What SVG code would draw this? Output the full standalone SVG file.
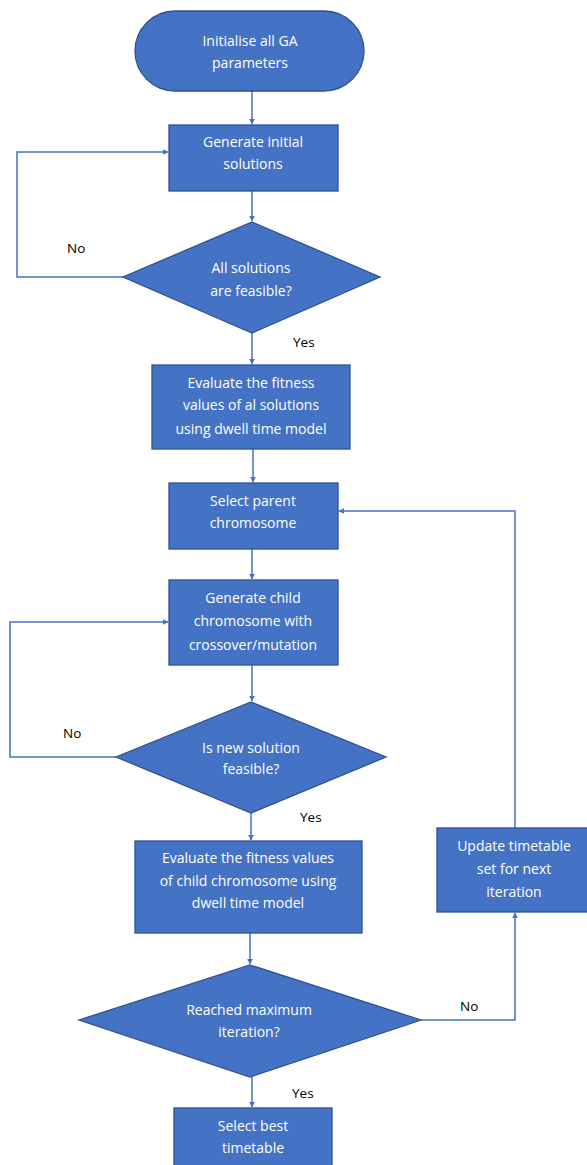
<svg xmlns="http://www.w3.org/2000/svg" width="587" height="1165" viewBox="0 0 587 1165">
<style>
.n{fill:#4472C4;stroke:#2F528F;stroke-width:1.3}
.t{fill:#fff;font-family:"Open Sans","Liberation Sans",Arial,sans-serif;font-size:14px;text-anchor:middle}
.l{fill:#000;font-family:"Open Sans","Liberation Sans",Arial,sans-serif;font-size:13.5px}
.c{fill:none;stroke:#4472C4;stroke-width:1.5}
</style>
<defs>
<marker id="a" viewBox="0 0 10 10" refX="9" refY="5" markerWidth="6" markerHeight="6" markerUnits="userSpaceOnUse" orient="auto"><path d="M0,0L10,5L0,10z" fill="#4472C4"/></marker>
</defs>
<rect width="587" height="1165" fill="#fff"/>
<g id="connectors">
<path class="c" d="M252,91V124" marker-end="url(#a)"/>
<path class="c" d="M252,191V221" marker-end="url(#a)"/>
<path class="c" d="M123,277H17V152H168" marker-end="url(#a)"/>
<path class="c" d="M252,333V364" marker-end="url(#a)"/>
<path class="c" d="M253,449V482" marker-end="url(#a)"/>
<path class="c" d="M252,549V579" marker-end="url(#a)"/>
<path class="c" d="M252,665V701" marker-end="url(#a)"/>
<path class="c" d="M116,757H10V622H168" marker-end="url(#a)"/>
<path class="c" d="M251,813V840" marker-end="url(#a)"/>
<path class="c" d="M250,933V964" marker-end="url(#a)"/>
<path class="c" d="M421,1020H515V913" marker-end="url(#a)"/>
<path class="c" d="M515,828V511H339" marker-end="url(#a)"/>
<path class="c" d="M252,1077V1107" marker-end="url(#a)"/>
</g>
<g id="labels">
<text class="l" x="67" y="253">No</text>
<text class="l" x="293" y="347">Yes</text>
<text class="l" x="63" y="738">No</text>
<text class="l" x="300" y="822">Yes</text>
<text class="l" x="460" y="1011">No</text>
<text class="l" x="292" y="1098">Yes</text>
</g>
<g id="n1">
<rect class="n" x="135" y="11" width="229" height="80" rx="40"/>
<text class="t" x="250" y="46">Initialise all GA</text>
<text class="t" x="250" y="68">parameters</text>
</g>
<g id="n2">
<rect class="n" x="169" y="125" width="169" height="66"/>
<text class="t" x="253" y="147">Generate initial</text>
<text class="t" x="253" y="169">solutions</text>
</g>
<g id="n3">
<polygon class="n" points="252,222 380,277 252,333 123,277"/>
<text class="t" x="251" y="273">All solutions</text>
<text class="t" x="251" y="296">are feasible?</text>
</g>
<g id="n4">
<rect class="n" x="152" y="365" width="198" height="84"/>
<text class="t" x="251" y="388">Evaluate the fitness</text>
<text class="t" x="251" y="410">values of al solutions</text>
<text class="t" x="251" y="434">using dwell time model</text>
</g>
<g id="n5">
<rect class="n" x="169" y="483" width="169" height="66"/>
<text class="t" x="253" y="506">Select parent</text>
<text class="t" x="253" y="528">chromosome</text>
</g>
<g id="n6">
<rect class="n" x="169" y="580" width="169" height="85"/>
<text class="t" x="253" y="603">Generate child</text>
<text class="t" x="253" y="626">chromosome with</text>
<text class="t" x="253" y="650">crossover/mutation</text>
</g>
<g id="n7">
<polygon class="n" points="251,702 386,757 251,813 116,757"/>
<text class="t" x="251" y="753">Is new solution</text>
<text class="t" x="251" y="774">feasible?</text>
</g>
<g id="n8">
<rect class="n" x="135" y="841" width="227" height="92"/>
<text class="t" x="248" y="863">Evaluate the fitness values</text>
<text class="t" x="248" y="886">of child chromosome using</text>
<text class="t" x="248" y="908">dwell time model</text>
<line x1="292" y1="881" x2="292" y2="899" stroke="#8B6A3E" stroke-width="1"/>
</g>
<g id="n9">
<polygon class="n" points="250,965 421,1020 250,1077 79,1020"/>
<text class="t" x="249" y="1015">Reached maximum</text>
<text class="t" x="249" y="1037">iteration?</text>
</g>
<g id="n10">
<rect class="n" x="437" y="828" width="152" height="84"/>
<text class="t" x="514" y="851">Update timetable</text>
<text class="t" x="514" y="874">set for next</text>
<text class="t" x="514" y="897">iteration</text>
</g>
<g id="n11">
<rect class="n" x="174" y="1108" width="158" height="60"/>
<text class="t" x="253" y="1131">Select best</text>
<text class="t" x="253" y="1153">timetable</text>
</g>
</svg>
